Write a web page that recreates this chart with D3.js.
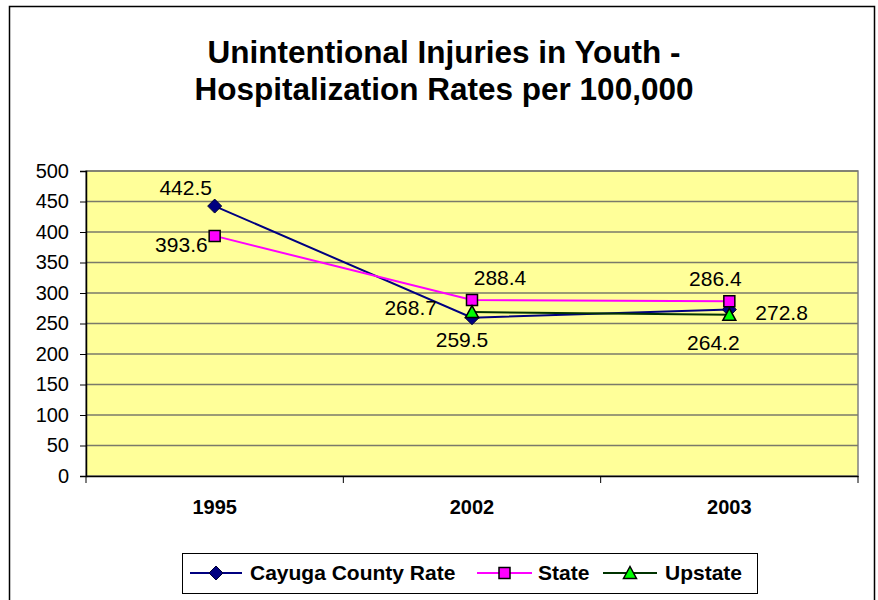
<!DOCTYPE html>
<html>
<head>
<meta charset="utf-8">
<script src="https://cdn.jsdelivr.net/npm/d3@7"></script>
<style>
  body { margin: 0; background: #fff; }
  svg { display: block; font-family: "Liberation Sans", Arial, sans-serif; }
</style>
</head>
<body>
<svg id="canvas" width="878" height="600"></svg>
<script>
// chart data
const years = ['1995', '2002', '2003'];
const seriesNames = ['Cayuga County Rate', 'State', 'Upstate'];
const cayuga = [442.5, 259.5, 272.8];
const state = [393.6, 288.4, 286.4];
const upstate = [null, 268.7, 264.2];
const yTicks = [0, 50, 100, 150, 200, 250, 300, 350, 400, 450, 500];

const svg = d3.select('#canvas');

/** chart frame */
svg.append('rect')
    .attr('x', 9.5).attr('y', 6.5)
    .attr('width', 865).attr('height', 600)
    .attr('fill', '#fff')
    .attr('stroke', '#000')
    .attr('stroke-width', 1.5);

/** title */
const title = svg.append('text')
    .attr('text-anchor', 'middle')
    .attr('font-weight', 'bold')
    .attr('font-size', 31.5)
    .attr('fill', '#000');
title.append('tspan').attr('x', 444).attr('y', 63).text('Unintentional Injuries in Youth -');
title.append('tspan').attr('x', 444).attr('y', 100).text('Hospitalization Rates per 100,000');

/** scales */
const plot = { left: 86, right: 858, top: 171, bottom: 476 };

const x = d3.scaleBand()
    .domain(years)
    .range([plot.left, plot.right]);

const y = d3.scaleLinear()
    .domain([0, 500])
    .range([plot.bottom, plot.top]);

/** plot area background */
svg.append('rect')
    .attr('x', plot.left).attr('y', plot.top)
    .attr('width', plot.right - plot.left)
    .attr('height', plot.bottom - plot.top)
    .attr('fill', '#ffff99')
    .attr('stroke', '#808080')
    .attr('stroke-width', 1.5);

/** gridlines */
svg.append('g')
    .selectAll('line')
    .data(yTicks.filter(d => d > 0))
    .enter()
    .append('line')
    .attr('x1', plot.left).attr('x2', plot.right)
    .attr('y1', d => y(d)).attr('y2', d => y(d))
    .attr('stroke', '#7a7a6a')
    .attr('stroke-width', 1.5);

/** y axis */
const yAxis = svg.append('g')
    .attr('transform', `translate(${plot.left},0)`)
    .call(d3.axisLeft(y).tickValues(yTicks).tickSize(6).tickPadding(11));
yAxis.selectAll('text')
    .attr('font-size', 20)
    .attr('font-family', '"Liberation Sans", Arial, sans-serif')
    .attr('fill', '#000');
yAxis.selectAll('line').attr('stroke', '#000');
yAxis.select('.domain').attr('stroke', '#000').attr('stroke-width', 1.5);

/** x axis */
const xAxis = svg.append('g')
    .attr('transform', `translate(0,${plot.bottom})`)
    .call(d3.axisBottom(x).tickSize(0).tickPadding(24));
xAxis.selectAll('text')
    .attr('font-size', 20)
    .attr('font-weight', 'bold')
    .attr('font-family', '"Liberation Sans", Arial, sans-serif')
    .attr('fill', '#000');
xAxis.select('.domain').attr('stroke', '#000').attr('stroke-width', 1.5);

/** tick marks between categories */
const bounds = years.map(d => x(d)).concat([plot.right]);
svg.append('g')
    .selectAll('line')
    .data(bounds)
    .enter()
    .append('line')
    .attr('x1', d => d).attr('x2', d => d)
    .attr('y1', plot.bottom).attr('y2', plot.bottom + 7)
    .attr('stroke', '#000')
    .attr('stroke-width', 1);

/** series definitions */
const series = [
    { name: seriesNames[0], values: cayuga, color: '#000080', marker: 'diamond', fill: '#000080',
      labels: [[-29, -18, 'middle'], [-10, 22, 'middle'], [26, 3, 'start']] },
    { name: seriesNames[1], values: state, color: '#ff00ff', marker: 'square', fill: '#ff00ff',
      labels: [[-7, 9, 'end'], [28, -22, 'middle'], [-14, -23, 'middle']] },
    { name: seriesNames[2], values: upstate, color: '#003300', marker: 'triangle', fill: '#00ff00',
      labels: [null, [-35, -4, 'end'], [-16, 28, 'middle']] }
];

const cx = d => x(d) + x.bandwidth() / 2;

const drawMarker = (g, type, fill) => {
    if (type === 'diamond') {
        g.append('path').attr('d', 'M0,-7L7,0L0,7L-7,0Z')
            .attr('fill', fill).attr('stroke', '#000033').attr('stroke-width', 1);
    } else if (type === 'square') {
        g.append('path').attr('d', 'M-5.5,-5.5H5.5V5.5H-5.5Z')
            .attr('fill', fill).attr('stroke', '#000').attr('stroke-width', 1.5);
    } else {
        g.append('path').attr('d', 'M0,-6.5L6.5,5.5H-6.5Z')
            .attr('fill', fill).attr('stroke', '#000').attr('stroke-width', 1.5);
    }
};

const line = d3.line()
    .defined(d => d.v !== null)
    .x(d => cx(d.year))
    .y(d => y(d.v));

series.forEach((s) => {
    const pts = years.map((yr, i) => ({ year: yr, v: s.values[i], i: i }));

    svg.append('path')
        .datum(pts)
        .attr('d', line)
        .attr('fill', 'none')
        .attr('stroke', s.color)
        .attr('stroke-width', 2);
});

series.forEach((s) => {
    const pts = years.map((yr, i) => ({ year: yr, v: s.values[i], i: i })).filter(d => d.v !== null);

    pts.forEach((d) => {
        const g = svg.append('g').attr('transform', `translate(${cx(d.year)},${y(d.v)})`);
        drawMarker(g, s.marker, s.fill);
    });

    /** data labels */
    pts.forEach((d) => {
        const off = s.labels[d.i];
        svg.append('text')
            .attr('x', cx(d.year) + off[0])
            .attr('y', y(d.v) + off[1])
            .attr('dy', '0.35em')
            .attr('text-anchor', off[2])
            .attr('font-size', 21)
            .attr('fill', '#000')
            .text(d.v.toFixed(1));
    });
});

/** legend */
const legend = svg.append('g');
legend.append('rect')
    .attr('x', 182.5).attr('y', 553.5)
    .attr('width', 575).attr('height', 40)
    .attr('fill', '#fff')
    .attr('stroke', '#000')
    .attr('stroke-width', 1);

const legendItems = [
    { x1: 190, x2: 242, text: 250 },
    { x1: 477, x2: 532, text: 538 },
    { x1: 603, x2: 657, text: 665 }
];

series.forEach((s, i) => {
    const it = legendItems[i];
    legend.append('line')
        .attr('x1', it.x1).attr('x2', it.x2)
        .attr('y1', 573).attr('y2', 573)
        .attr('stroke', s.color)
        .attr('stroke-width', 2);
    const g = legend.append('g').attr('transform', `translate(${(it.x1 + it.x2) / 2},573)`);
    drawMarker(g, s.marker, s.fill);
    legend.append('text')
        .attr('x', it.text).attr('y', 573)
        .attr('dy', '0.35em')
        .attr('font-size', 21)
        .attr('font-weight', 'bold')
        .attr('fill', '#000')
        .text(s.name);
});
</script>
</body>
</html>
